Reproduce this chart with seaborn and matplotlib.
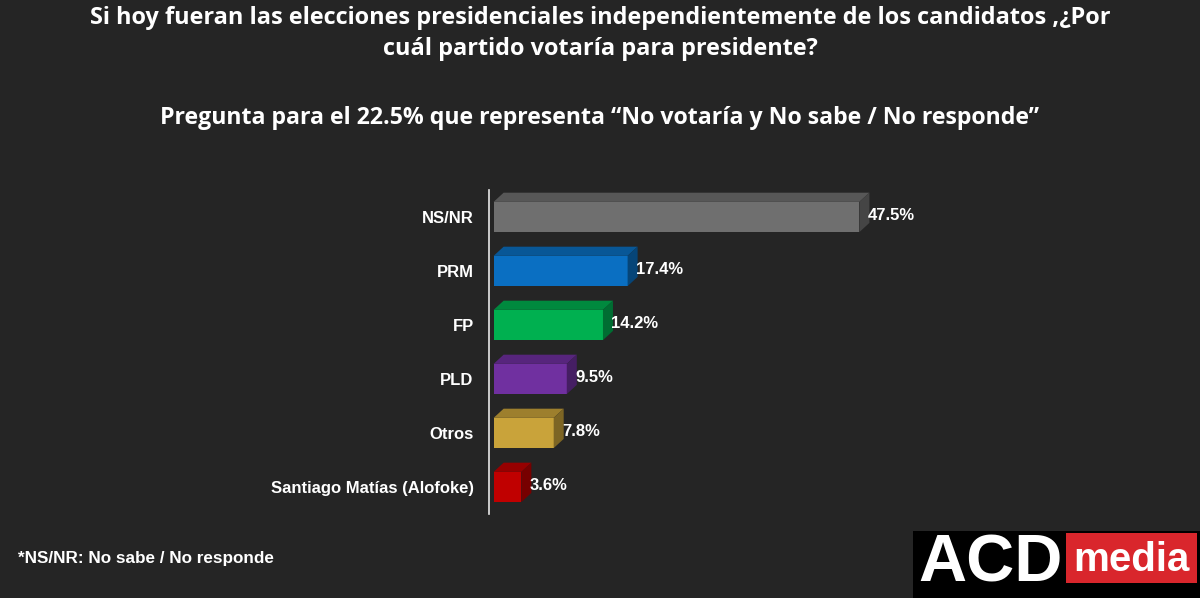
import pandas as pd
import seaborn as sns
import matplotlib.pyplot as plt
import matplotlib.colors as mcolors
from matplotlib.patches import Polygon, Rectangle

# --- data ---
parties = ["NS/NR", "PRM", "FP", "PLD", "Otros", "Santiago Matías (Alofoke)"]
shares = [47.5, 17.4, 14.2, 9.5, 7.8, 3.6]
bar_colors = ["#6f6f6f", "#0a6fc2", "#00b050", "#7030a0", "#c9a33a", "#c00000"]

title_1 = "Si hoy fueran las elecciones presidenciales independientemente de los candidatos ,¿Por"
title_2 = "cuál partido votaría para presidente?"
subtitle = "Pregunta para el 22.5% que representa \u201cNo votaría y No sabe / No responde\u201d"
footnote = "*NS/NR: No sabe / No responde"

bg = "#252525"
sns.set_theme(style="dark")
plt.rcParams["font.family"] = ["Liberation Sans", "DejaVu Sans"]
title_font = ["Open Sans", "DejaVu Sans"]

fig = plt.figure(figsize=(12, 5.98), dpi=100, facecolor=bg)
ax = fig.add_axes([0.4075, 0.1405, 0.385, 0.5418])
ax.set_facecolor("none")

df = pd.DataFrame({"partido": parties, "pct": shares})
sns.barplot(data=df, x="pct", y="partido", hue="partido", palette=bar_colors,
            legend=False, width=0.56, saturation=1, ax=ax)

ax.set_xlim(-0.6, 59.4)
ax.set_ylim(5.5, -0.5)

# fake 3D: top and side faces
dx, dy = 1.3, 0.17
for bar, col in zip(ax.patches, bar_colors):
    bar.set_edgecolor("none")
    x0, x1 = bar.get_x(), bar.get_x() + bar.get_width()
    ytop, ybot = bar.get_y(), bar.get_y() + bar.get_height()
    rgb = mcolors.to_rgb(col)
    top = tuple(c * 0.78 for c in rgb)
    side = tuple(c * 0.62 for c in rgb)
    ax.add_patch(Polygon([(x0, ytop), (x1, ytop), (x1 + dx, ytop - dy), (x0 + dx, ytop - dy)],
                         closed=True, facecolor=top, edgecolor="none"))
    ax.add_patch(Polygon([(x1, ytop), (x1 + dx, ytop - dy), (x1 + dx, ybot - dy), (x1, ybot)],
                         closed=True, facecolor=side, edgecolor="none"))

for i, v in enumerate(shares):
    ax.text(v + 1.1, i - 0.02, f"{v}%", va="center", ha="left", color="white",
            fontsize=12, fontweight="bold")

ax.set_xlabel("")
ax.set_ylabel("")
ax.set_xticks([])
ax.tick_params(axis="y", length=0, pad=11, colors="white")
for lab in ax.get_yticklabels():
    lab.set_fontweight("bold")
    lab.set_fontsize(12)
    lab.set_color("white")
for s in ["top", "right", "bottom"]:
    ax.spines[s].set_visible(False)
ax.spines["left"].set_color("#e8e8e8")
ax.spines["left"].set_linewidth(1.2)
ax.grid(False)

# titles
fig.text(0.5, 1 - 18 / 598, title_1, ha="center", va="center", color="white",
         fontsize=16.9, fontweight="bold", family=title_font)
fig.text(0.5, 1 - 49 / 598, title_2, ha="center", va="center", color="white",
         fontsize=16.9, fontweight="bold", family=title_font)
fig.text(0.5, 1 - 118 / 598, subtitle, ha="center", va="center", color="white",
         fontsize=16.7, fontweight="bold", family=title_font)
fig.text(18 / 1200, 1 - 558 / 598, footnote, ha="left", va="center", color="white",
         fontsize=12.3, fontweight="bold")

# logo
fig.patches.append(Rectangle((913 / 1200, 0), 287 / 1200, 67 / 598, transform=fig.transFigure,
                             facecolor="black", edgecolor="none", zorder=5))
fig.patches.append(Rectangle((1066 / 1200, 15 / 598), 131 / 1200, 50 / 598, transform=fig.transFigure,
                             facecolor="#d9262c", edgecolor="none", zorder=6))
fig.text(991 / 1200, 1 - 564 / 598, "ACD", ha="center", va="center", color="white",
         fontsize=48, fontweight="heavy", zorder=7)
fig.text(1131 / 1200, 1 - 560 / 598, "media", ha="center", va="center", color="white",
         fontsize=29, fontweight="bold", zorder=7)

fig.savefig("out.png", dpi=100, facecolor=bg)
